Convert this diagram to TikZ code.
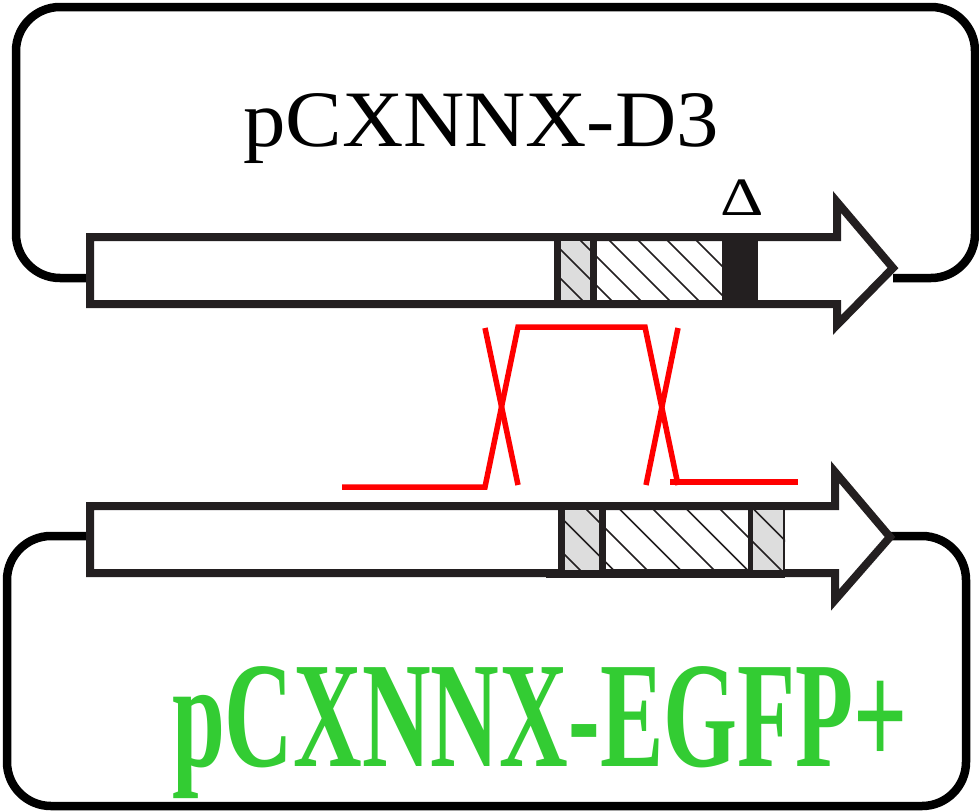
\documentclass[tikz,border=0pt]{standalone}
\usepackage{fontspec}
\setmainfont{Liberation Serif}
\definecolor{ink}{RGB}{35,31,32}
\definecolor{gfpgreen}{RGB}{51,204,51}
\definecolor{boxgray}{RGB}{221,221,221}
\begin{document}
\begin{tikzpicture}[x=1pt,y=-1pt,
  frame/.style={line width=8.5pt, black, rounded corners=44pt},
  shaft/.style={line width=8pt, draw=ink, fill=white, line join=miter},
  sep/.style={line width=7pt, ink},
  hatch/.style={line width=1.6pt, ink},
  cross/.style={line width=5.5pt, red},
  graybox/.style={fill=boxgray},
  label/.style={inner sep=0pt, anchor=base}]
\useasboundingbox (0,0) rectangle (979,811);

% ---------- upper plasmid ----------
\draw[frame] (90,278) -- (16,278) -- (16,7) -- (975,7) -- (975,278) -- (893,278);
\draw[shaft] (90,237) -- (837,237) -- (837,202) -- (893,268) -- (837,325)
  -- (837,304) -- (90,304) -- cycle;
\fill[graybox] (557,237) rectangle (593,304);
\fill[ink] (722,237) rectangle (758,304);
\begin{scope}
  \clip (557,241) rectangle (722,300);
  \foreach \k in {461,490,...,722} \draw[hatch] (\k,237) -- ++(70,70);
\end{scope}
\draw[sep] (557,237) -- (557,304);
\draw[sep] (593,237) -- (593,304);
\draw[line width=8pt, ink] (90,237) -- (837,237);
\draw[line width=8pt, ink] (90,304) -- (837,304);

\node[label] (title1) at (481,146) {\fontsize{80}{96}\selectfont\scalebox{1.06}[1]{pCXNNX-D3}};
\node[label] (delta) at (742,215) {\fontsize{54}{60}\selectfont\scalebox{1.25}[1]{Δ}};

% ---------- lower plasmid ----------
\draw[frame] (90,536) -- (7,536) -- (7,806) -- (966,806) -- (966,536) -- (890,536);
\draw[shaft] (90,506) -- (835,506) -- (835,472) -- (890,537) -- (835,600)
  -- (835,573) -- (90,573) -- cycle;
\fill[graybox] (561,506) rectangle (602,573);
\fill[graybox] (750,506) rectangle (785,573);
\begin{scope}
  \clip (561,510) rectangle (785,569);
  \foreach \k in {482.5,516,...,790} \draw[hatch] (\k,506) -- ++(70,70);
\end{scope}
\draw[sep] (561,506) -- (561,573);
\draw[sep] (602,506) -- (602,573);
\draw[line width=5pt, ink] (750,506) -- (750,573);
\draw[line width=2.5pt, ink] (784,506) -- (784,573);
\draw[line width=8pt, ink] (90,506) -- (785,506);
\draw[line width=8pt, ink] (546,574) -- (785,574);

\node[label, text=gfpgreen] (title2) at (540,766)
  {\fontsize{151}{170}\selectfont\bfseries\scalebox{0.63}[1]{pCXNNX-EGFP+}};

% ---------- crossover ----------
\draw[cross] (342,487) -- (485,487) -- (518,327) -- (645,327) -- (678,485);
\draw[cross] (670,482) -- (798,482);
\draw[cross] (485,328) -- (518,485);
\draw[cross] (678,328) -- (646,485);
\end{tikzpicture}
\end{document}
